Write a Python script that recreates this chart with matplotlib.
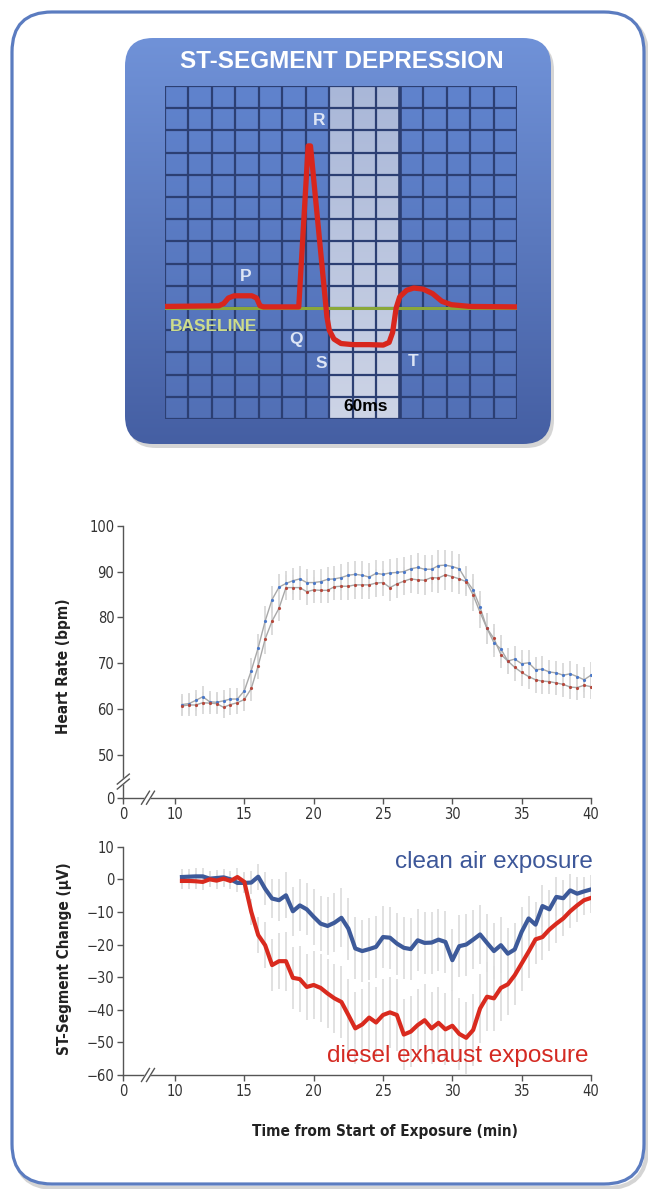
import numpy as np
import matplotlib.pyplot as plt
from matplotlib import font_manager as fm
from matplotlib.patches import FancyBboxPatch
from matplotlib.transforms import ScaledTranslation

# ---- data ----
t = [10.5, 11, 11.5, 12, 12.5, 13, 13.5, 14, 14.5, 15,
     15.5, 16, 16.5, 17, 17.5, 18, 18.5, 19, 19.5, 20,
     20.5, 21, 21.5, 22, 22.5, 23, 23.5, 24, 24.5, 25,
     25.5, 26, 26.5, 27, 27.5, 28, 28.5, 29, 29.5, 30,
     30.5, 31, 31.5, 32, 32.5, 33, 33.5, 34, 34.5, 35,
     35.5, 36, 36.5, 37, 37.5, 38, 38.5, 39, 39.5, 40]

hr_clean = [61.0, 61.2, 61.9, 62.7, 61.6, 61.5, 61.8, 62.2, 62.2, 64.0,
            68.4, 73.4, 79.2, 83.9, 86.6, 87.4, 88.0, 88.4, 87.6, 87.6,
            87.8, 88.3, 88.4, 88.7, 89.2, 89.4, 89.2, 88.8, 89.6, 89.4,
            89.7, 89.8, 90.0, 90.6, 90.9, 90.5, 90.5, 91.3, 91.4, 91.1,
            90.6, 88.1, 86.0, 82.2, 77.6, 74.5, 73.1, 70.5, 70.9, 69.9,
            70.1, 68.6, 68.7, 68.1, 67.9, 67.4, 67.7, 67.1, 66.4, 67.4]
hr_diesel = [60.7, 60.9, 60.9, 61.4, 61.3, 61.2, 60.4, 61.0, 61.4, 62.1,
             64.5, 69.5, 75.3, 79.2, 82.0, 86.5, 86.5, 86.5, 85.6, 86.0,
             85.9, 85.9, 86.7, 86.8, 86.8, 87.1, 87.1, 87.1, 87.5, 87.6,
             86.5, 87.3, 87.9, 88.4, 88.2, 88.1, 88.7, 88.6, 89.3, 88.9,
             88.4, 87.8, 84.9, 81.1, 77.6, 75.4, 71.9, 70.5, 69.1, 68.0,
             67.1, 66.4, 66.1, 66.0, 65.7, 65.4, 64.8, 64.7, 65.2, 64.9]
hr_err = [2.2, 2.3, 2.3, 2.4, 2.3, 2.3, 2.4, 2.3, 2.4, 2.5,
          2.8, 3.0, 3.2, 3.0, 2.8, 2.7, 2.8, 2.8, 2.9, 2.8,
          2.8, 2.8, 2.9, 2.9, 2.9, 3.0, 3.0, 3.0, 3.0, 3.0,
          3.0, 3.1, 3.1, 3.1, 3.2, 3.2, 3.2, 3.3, 3.3, 3.3,
          3.2, 3.1, 3.4, 3.5, 3.4, 3.2, 3.0, 2.9, 2.9, 2.9,
          2.8, 2.8, 2.8, 2.7, 2.7, 2.7, 2.7, 2.7, 2.7, 2.8]

st_clean = [0.7, 0.8, 0.9, 0.9, 0.2, 0.4, 0.6, 0.0, -1.1, -1.1,
            -1.0, 0.8, -2.9, -5.9, -6.4, -4.9, -9.8, -8.0, -9.2, -11.5,
            -13.6, -14.3, -13.3, -11.8, -15.1, -21.2, -22.0, -21.4, -20.7, -17.7,
            -17.9, -19.7, -21.0, -21.4, -18.7, -19.5, -19.4, -18.5, -19.2, -24.8,
            -20.5, -20.0, -18.5, -16.9, -19.5, -22.0, -20.2, -22.8, -21.5, -16.1,
            -12.0, -13.9, -8.2, -9.2, -5.4, -5.8, -3.4, -4.4, -3.7, -3.1]
st_diesel = [-0.5, -0.5, -0.6, -0.8, 0.0, -0.4, 0.2, -0.5, 0.7, -0.8,
             -10.0, -17.1, -20.2, -26.3, -25.1, -25.1, -30.2, -30.6, -33.0, -32.4,
             -33.3, -35.0, -36.5, -37.6, -41.6, -45.7, -44.5, -42.4, -43.9, -41.6,
             -40.8, -41.6, -47.6, -46.7, -44.7, -43.2, -45.7, -44.0, -46.0, -44.9,
             -47.4, -48.6, -46.2, -39.6, -36.0, -36.5, -33.3, -32.2, -29.4, -25.8,
             -22.2, -18.4, -17.7, -15.4, -13.6, -12.0, -9.8, -8.0, -6.4, -5.7]
st_err_clean = [2.5, 2.5, 2.5, 2.5, 2.5, 2.5, 2.5, 2.5, 2.8, 3.0,
                3.5, 4.0, 5.0, 6.0, 6.5, 7.0, 7.5, 8.0, 8.0, 8.5,
                8.5, 9.0, 9.0, 9.0, 9.5, 9.5, 9.5, 9.5, 9.5, 9.5,
                9.5, 9.5, 9.5, 9.5, 9.5, 9.5, 9.5, 9.5, 9.5, 9.5,
                9.5, 9.5, 9.0, 9.0, 9.0, 8.5, 8.5, 8.0, 8.0, 7.5,
                7.0, 7.0, 6.5, 6.0, 6.0, 5.5, 5.0, 5.0, 4.5, 4.5]
st_err_diesel = [2.5, 2.5, 2.5, 2.5, 2.5, 2.5, 2.5, 2.5, 2.8, 3.0,
                 4.0, 5.5, 7.0, 8.0, 8.5, 9.0, 9.5, 10.0, 10.0, 10.5,
                 10.5, 10.5, 10.5, 11.0, 11.0, 11.0, 11.0, 11.0, 11.0, 11.0,
                 11.0, 11.0, 11.0, 11.0, 11.0, 11.0, 11.0, 11.0, 11.0, 11.0,
                 11.0, 11.0, 11.0, 10.5, 10.5, 10.0, 10.0, 9.5, 9.0, 8.5,
                 8.0, 7.5, 7.0, 6.5, 6.0, 5.5, 5.0, 5.0, 4.5, 4.5]

x_ticks = [10, 15, 20, 25, 30, 35, 40]
hr_ticks = [50, 60, 70, 80, 90, 100]
st_ticks = [-60, -50, -40, -30, -20, -10, 0, 10]

# schematic ECG trace (grid units)
ecg_x = [0, 2.3, 2.5, 2.7, 2.95, 3.7, 3.9, 4.05, 4.2, 5.7, 6.1, 6.2, 6.9, 7.0,
         7.2, 7.5, 8.0, 8.7, 9.3, 9.55, 9.7, 9.85, 10.0, 10.3, 10.6, 11.0,
         11.4, 11.8, 12.2, 13.0, 15]
ecg_y = [5.07, 5.1, 5.2, 5.45, 5.55, 5.55, 5.45, 5.1, 5.05, 5.05, 12.3, 12.3,
         4.6, 4.0, 3.6, 3.4, 3.35, 3.35, 3.33, 3.45, 3.9, 5.0, 5.5, 5.8, 5.9,
         5.85, 5.65, 5.3, 5.15, 5.07, 5.05]
baseline_level = 5
wave_labels = ['P', 'R', 'Q', 'S', 'T']
wave_lx = [3.43, 6.57, 5.57, 6.64, 10.57]
wave_ly = [6.42, 13.46, 3.57, 2.52, 2.6]

# pick a condensed face for the chart text if one is installed
fonts = fm.fontManager.ttflist
names = {fe.name for fe in fonts}
c_stretch = 'normal'
if 'Liberation Sans Narrow' in names:
    cfam = 'Liberation Sans Narrow'
elif any(fe.name == 'DejaVu Sans' and fe.stretch == 'condensed' for fe in fonts):
    cfam = 'DejaVu Sans'
    c_stretch = 'condensed'
else:
    cfam = 'Liberation Sans'
cfont = [cfam, 'DejaVu Sans']

W, H = 648, 1189
fig = plt.figure(figsize=(6.48, 11.89), dpi=100)

# ---- background: frame + ECG panel ----
bg = fig.add_axes([0, 0, 1, 1])
bg.axis('off')
bg.add_patch(FancyBboxPatch((15, 16), 632, 1172, boxstyle='round,pad=0,rounding_size=40',
                            fc='none', ec='#b8b8b8', lw=3, alpha=0.6))
bg.add_patch(FancyBboxPatch((12, 12), 632, 1172, boxstyle='round,pad=0,rounding_size=40',
                            fc='white', ec='#5b7cc0', lw=2.3))
bg.add_patch(FancyBboxPatch((128, 42), 426, 406, boxstyle='round,pad=0,rounding_size=28',
                            fc='#777777', ec='none', alpha=0.3))
panel = FancyBboxPatch((125, 38), 426, 406, boxstyle='round,pad=0,rounding_size=28',
                       fc='none', ec='none')
bg.add_patch(panel)
c_top = np.array([0x70, 0x92, 0xd8]) / 255
c_bot = np.array([0x45, 0x5f, 0xa3]) / 255
f = np.linspace(0, 1, 200)[:, None, None]
grad = c_top * (1 - f) + c_bot * f
im = bg.imshow(grad, extent=(125, 551, 444, 38), aspect='auto', origin='upper', zorder=2)
im.set_clip_path(panel)
bg.set_xlim(0, W)
bg.set_ylim(H, 0)
bg.text(342, 62, 'ST-SEGMENT DEPRESSION', color='white', fontsize=17.5, fontweight='bold',
        family='Liberation Sans', ha='center', va='center', zorder=3)

# ---- ECG grid ----
ecg = fig.add_axes([165 / W, 1 - 419 / H, 352 / W, 333 / H])
ecg.axis('off')
g_top = np.array([0x60, 0x83, 0xcd]) / 255
g_bot = np.array([0x52, 0x70, 0xb6]) / 255
ecg.imshow(g_top * (1 - f) + g_bot * f, extent=(0, 15, 0, 15), aspect='auto', origin='upper')
h_top = np.array([0xa9, 0xb7, 0xd8]) / 255
h_bot = np.array([0xcd, 0xd4, 0xe6]) / 255
ecg.imshow(h_top * (1 - f) + h_bot * f, extent=(7, 10, 0, 15), aspect='auto', origin='upper')
navy = '#2c3f73'
ecg.vlines(range(16), 0, 15, color=navy, lw=1.6)
ecg.hlines(range(16), 0, 15, color=navy, lw=1.6)
ecg.vlines(10, 0, 15, color=navy, lw=2.6)
ecg.plot([0, 15], [baseline_level, baseline_level], color='#8aa83a', lw=2.2)
ecg.plot(ecg_x, ecg_y, color='#d8261d', lw=3.8, solid_joinstyle='round', solid_capstyle='round')
for s, lx, ly in zip(wave_labels, wave_lx, wave_ly):
    ecg.text(lx, ly, s, color='#dde5f5', fontsize=12.5, fontweight='bold',
             family='Liberation Sans', ha='center', va='center')
ecg.text(0.2, 4.17, 'BASELINE', color='#cddc8c', fontsize=12.5, fontweight='bold',
         family='Liberation Sans', ha='left', va='center')
ecg.text(8.57, 0.57, '60ms', color='black', fontsize=12.5, fontweight='bold',
         family='Liberation Sans', ha='center', va='center')
ecg.set_xlim(0, 15)
ecg.set_ylim(0, 15)

# ---- chart axes ----
x0_pos = 6.27      # where "0" sits on the broken time axis
hr0_pos = 40.68    # where "0" sits on the broken heart-rate axis
spine_c = '#555555'


def style(ax):
    ax.set_facecolor('none')
    for sp in ['top', 'right']:
        ax.spines[sp].set_visible(False)
    for sp in ['left', 'bottom']:
        ax.spines[sp].set_color(spine_c)
        ax.spines[sp].set_linewidth(1.0)
    ax.tick_params(direction='out', length=4.5, width=1, color=spine_c,
                   labelsize=10.5, labelcolor='#333333', pad=2)
    ax.set_xlim(x0_pos, 40)
    ax.set_xticks([x0_pos] + x_ticks)
    ax.set_xticklabels(['0'] + [str(v) for v in x_ticks], family=cfont, stretch=c_stretch)


def brk(ax, xv, yv, vertical):
    tr = fig.dpi_scale_trans + ScaledTranslation(xv, yv, ax.transData)
    if vertical:
        poly = [(-0.06, -0.075), (0.06, 0.025), (0.06, 0.075), (-0.06, -0.025)]
        l1 = [(-0.06, -0.075), (0.06, 0.025)]
        l2 = [(-0.06, -0.025), (0.06, 0.075)]
    else:
        poly = [(-0.065, -0.065), (0.015, 0.065), (0.065, 0.065), (-0.015, -0.065)]
        l1 = [(-0.065, -0.065), (0.015, 0.065)]
        l2 = [(-0.015, -0.065), (0.065, 0.065)]
    ax.fill([p[0] for p in poly], [p[1] for p in poly], color='white', transform=tr,
            clip_on=False, zorder=5)
    for ln in (l1, l2):
        ax.plot([p[0] for p in ln], [p[1] for p in ln], color=spine_c, lw=1,
                transform=tr, clip_on=False, zorder=6)


lab_kw = dict(family=cfont, stretch=c_stretch, fontsize=11, fontweight='bold', color='#222222')

ax_w = (591 - 123.3) / W
ax1 = fig.add_axes([123.3 / W, 1 - 797.7 / H, ax_w, (797.7 - 525.7) / H])
style(ax1)
ax1.errorbar(t, hr_clean, yerr=hr_err, fmt='none', ecolor='#d9d9d9', elinewidth=1.3, capsize=0)
ax1.errorbar(t, hr_diesel, yerr=hr_err, fmt='none', ecolor='#d9d9d9', elinewidth=1.3, capsize=0)
ax1.plot(t, hr_clean, color='#a8a8a8', lw=1)
ax1.plot(t, hr_diesel, color='#a8a8a8', lw=1)
ax1.plot(t, hr_clean, 'o', color='#4a78c8', ms=2.3, mec='none')
ax1.plot(t, hr_diesel, 'o', color='#b5483c', ms=2.3, mec='none')
ax1.set_ylim(hr0_pos, 100)
ax1.set_yticks([hr0_pos] + hr_ticks)
ax1.set_yticklabels(['0'] + [str(v) for v in hr_ticks], family=cfont, stretch=c_stretch)
ax1.set_ylabel('Heart Rate (bpm)', **lab_kw)
ax1.yaxis.set_label_coords(-0.112, 0.484)
brk(ax1, 8.05, hr0_pos, False)
brk(ax1, x0_pos, 44.2, True)

ax2 = fig.add_axes([123.3 / W, 1 - 1075 / H, ax_w, (1075 - 846.7) / H])
style(ax2)
ax2.errorbar(t, st_clean, yerr=st_err_clean, fmt='none', ecolor='#dedede', elinewidth=1.3, capsize=0)
ax2.errorbar(t, st_diesel, yerr=st_err_diesel, fmt='none', ecolor='#dedede', elinewidth=1.3, capsize=0)
ax2.plot(t, st_clean, color='#3d5a9a', lw=3, solid_joinstyle='round')
ax2.plot(t, st_diesel, color='#d92a1e', lw=3, solid_joinstyle='round')
ax2.set_ylim(-60, 10)
ax2.set_yticks(st_ticks)
ax2.set_yticklabels([str(v).replace('-', '\u2212') for v in st_ticks], family=cfont,
                    stretch=c_stretch)
ax2.set_ylabel('ST-Segment Change (\u03bcV)', **lab_kw)
ax2.yaxis.set_label_coords(-0.11, 0.51)
ax2.set_xlabel('Time from Start of Exposure (min)', **lab_kw)
ax2.xaxis.set_label_coords(0.56, -0.215)
ax2.text(40.1, 3.6, 'clean air exposure', color='#3d5799', fontsize=17.5,
         family='Liberation Sans', ha='right', va='baseline')
ax2.text(39.8, -56.0, 'diesel exhaust exposure', color='#d42a22', fontsize=17.5,
         family='Liberation Sans', ha='right', va='baseline')
brk(ax2, 8.05, -60, False)

fig.savefig('out.png', dpi=100, facecolor='white')
